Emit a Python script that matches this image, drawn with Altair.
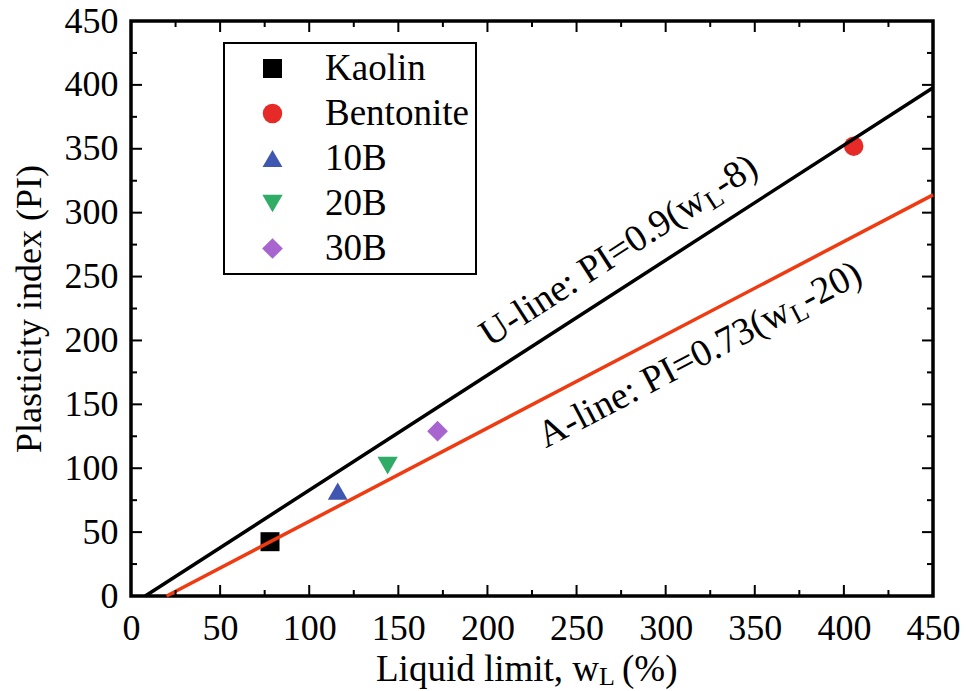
import math

import altair as alt
import pandas as pd

# Measured soils: liquid limit wL (%) and plasticity index PI
materials = ["Kaolin", "Bentonite", "10B", "20B", "30B"]
liquid_limit = [78, 405.5, 116, 144, 172]
plasticity_index = [42.5, 352, 82, 102, 129]

marker_shapes = ["square", "circle", "triangle-up", "triangle-down", "diamond"]
marker_colors = ["#000000", "#e52a27", "#3f57b1", "#2fad67", "#a865cf"]
marker_sizes = [361, 430, 600, 650, 740]

# Casagrande chart reference lines: PI = slope * (wL - shift)
u_slope, u_shift = 0.9, 8
a_slope, a_shift = 0.73, 20
axis_max = 450

major_ticks = list(range(0, 451, 50))
minor_ticks = list(range(25, 450, 50))

W, H = 802, 575
FONT = "Liberation Serif"
FS = 36          # tick labels and y title
LEG_FS = 37      # legend labels
NOTE_FS = 38     # equations along the lines
NOTE_SUB_FS = 27
TITLE_FS = 37
TITLE_SUB_FS = 26
A_LINE_COLOR = "#ef3b12"

points = pd.DataFrame({"Material": materials, "wL": liquid_limit, "PI": plasticity_index})

x_scale = alt.Scale(domain=[0, axis_max], nice=False, zero=False)
y_scale = alt.Scale(domain=[0, axis_max], nice=False, zero=False)

common_axis = dict(
    values=major_ticks, ticks=False, tickSize=0, domain=False, grid=False,
    labelFont=FONT, labelFontSize=FS, labelColor="black",
    labelFlush=False, labelOverlap=False,
)
x_axis = alt.Axis(labelPadding=15, title=None, **common_axis)
y_axis = alt.Axis(
    labelPadding=13, title="Plasticity index (PI)", titleFont=FONT, titleFontSize=FS,
    titleFontWeight="normal", titleColor="black", titlePadding=16, **common_axis,
)

legend = alt.Legend(
    orient="none", legendX=93, legendY=22, title=None,
    padding=7, strokeColor="black", fillColor="white",
    labelFont=FONT, labelFontSize=LEG_FS, labelColor="black",
    rowPadding=7, symbolOffset=23, labelOffset=34,
    symbolStrokeWidth=0, symbolOpacity=1,
)


def xq(field):
    return alt.X(f"{field}:Q", scale=x_scale, axis=x_axis, title=None)


def yq(field):
    return alt.Y(f"{field}:Q", scale=y_scale, axis=y_axis, title="Plasticity index (PI)")


point_layer = alt.Chart(points).mark_point(filled=True, opacity=1, strokeWidth=0).encode(
    x=xq("wL"),
    y=yq("PI"),
    color=alt.Color("Material:N", scale=alt.Scale(domain=materials, range=marker_colors), legend=legend),
    shape=alt.Shape("Material:N", scale=alt.Scale(domain=materials, range=marker_shapes), legend=legend),
    size=alt.Size("Material:N", scale=alt.Scale(domain=materials, range=marker_sizes), legend=legend),
)


def ref_line(slope, shift, color):
    ends = [shift, axis_max]
    df = pd.DataFrame({"wL": ends, "PI": [slope * (w - shift) for w in ends]})
    return alt.Chart(df).mark_line(color=color, strokeWidth=3.5).encode(x=xq("wL"), y=yq("PI"))


u_line = ref_line(u_slope, u_shift, "black")
a_line = ref_line(a_slope, a_shift, A_LINE_COLOR)


def line_label(slope, shift, at_wl, dy, head, tail, head_em):
    """Equation label written along a reference line, with a subscript L."""
    angle = math.degrees(math.atan(slope * (H / axis_max) / (W / axis_max)))
    rot = 360 - angle
    df = pd.DataFrame({"wL": [at_wl], "PI": [slope * (at_wl - shift)]})
    base = alt.Chart(df)
    enc = dict(x=xq("wL"), y=yq("PI"))
    head_width = head_em * NOTE_FS
    sub_width = 0.611 * NOTE_SUB_FS
    style = dict(angle=rot, align="left", baseline="alphabetic", font=FONT, color="black")
    parts = [
        base.mark_text(text=head, dx=0, dy=dy, fontSize=NOTE_FS, **style).encode(**enc),
        base.mark_text(text="L", dx=head_width + 1, dy=dy + 6, fontSize=NOTE_SUB_FS, **style).encode(**enc),
        base.mark_text(text=tail, dx=head_width + sub_width + 1, dy=dy, fontSize=NOTE_FS, **style).encode(**enc),
    ]
    return alt.layer(*parts)


u_label = line_label(u_slope, u_shift, 208, -22, "U-line: PI=0.9(w", "-8)", 6.841)
a_label = line_label(a_slope, a_shift, 221, 45, "A-line: PI=0.73(w", "-20)", 7.341)


def tick_rules(values, length):
    df = pd.DataFrame({"wL": values, "PI": values})
    base = alt.Chart(df).mark_rule(color="black", strokeWidth=2)
    return [
        base.encode(x=xq("wL"), y=alt.value(H), y2=alt.value(H - length)),
        base.encode(x=xq("wL"), y=alt.value(0), y2=alt.value(length)),
        base.encode(y=yq("PI"), x=alt.value(0), x2=alt.value(length)),
        base.encode(y=yq("PI"), x=alt.value(W), x2=alt.value(W - length)),
    ]


ticks = tick_rules(major_ticks, 11) + tick_rules(minor_ticks, 6)

# x-axis title with a subscript L
title_base = alt.Chart(pd.DataFrame({"k": [0]}))
title_style = dict(align="left", baseline="alphabetic", font=FONT, color="black")
x_title = alt.layer(
    title_base.mark_text(text="Liquid limit, w", fontSize=TITLE_FS, **title_style).encode(
        x=alt.value(245), y=alt.value(660)),
    title_base.mark_text(text="L", fontSize=TITLE_SUB_FS, **title_style).encode(
        x=alt.value(468), y=alt.value(664)),
    title_base.mark_text(text="(%)", fontSize=TITLE_FS, **title_style).encode(
        x=alt.value(491), y=alt.value(660)),
)

chart = alt.layer(
    point_layer, u_line, a_line, u_label, a_label, *ticks, x_title
).properties(
    width=W, height=H,
    padding={"left": 131, "top": 21, "right": 35, "bottom": 95},
    autosize=alt.AutoSizeParams(type="none"),
    background="white",
).configure_view(
    stroke="black", strokeWidth=3.5
).configure_legend(
    strokeWidth=2
)

chart.save("out.html", embed_options={"renderer": "svg", "actions": False})
